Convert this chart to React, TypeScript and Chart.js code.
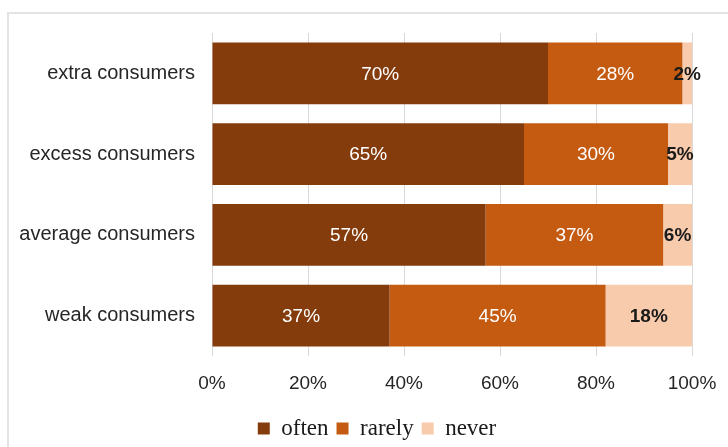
import React, { useEffect, useRef } from "react";
import { Chart, registerables } from "chart.js";

Chart.register(...registerables);

const categories = ["extra consumers", "excess consumers", "average consumers", "weak consumers"];
const often = [70, 65, 57, 37];
const rarely = [28, 30, 37, 45];
const never = [2, 5, 6, 18];
const seriesNames = ["often", "rarely", "never"];
const xTicks = [0, 20, 40, 60, 80, 100];

const SANS = "'Liberation Sans', Arial, sans-serif";
const SERIF = "'Liberation Serif', 'Times New Roman', serif";

const dataLabelPlugin = {
  id: "segmentLabels",
  afterDatasetsDraw(chart: any) {
    const ctx = chart.ctx;
    ctx.save();
    ctx.textAlign = "center";
    ctx.textBaseline = "middle";
    chart.data.datasets.forEach((ds: any, di: number) => {
      const meta = chart.getDatasetMeta(di);
      meta.data.forEach((el: any, i: number) => {
        const v = ds.data[i];
        const cx = (el.x + el.base) / 2;
        if (di === 2) {
          ctx.font = `bold 19px ${SANS}`;
          ctx.fillStyle = "#1a1a1a";
        } else {
          ctx.font = `19px ${SANS}`;
          ctx.fillStyle = "#ffffff";
        }
        ctx.fillText(`${v}%`, cx, el.y + 1);
      });
    });
    ctx.restore();
  },
};

const legendShiftPlugin = {
  id: "legendShift",
  afterLayout(chart: any) {
    const lg = chart.legend;
    if (lg) {
      lg.left += 31;
      lg.right += 31;
    }
  },
};

export default function App() {
  const ref = useRef<HTMLCanvasElement | null>(null);

  useEffect(() => {
    if (!ref.current) return;
    const chart = new Chart(ref.current, {
      type: "bar",
      data: {
        labels: categories,
        datasets: [
          { label: seriesNames[0], data: often, backgroundColor: "#843C0C" },
          { label: seriesNames[1], data: rarely, backgroundColor: "#C55A11" },
          { label: seriesNames[2], data: never, backgroundColor: "#F8CBAD" },
        ],
      },
      options: {
        indexAxis: "y",
        responsive: false,
        animation: false,
        devicePixelRatio: 1,
        events: [],
        datasets: { bar: { categoryPercentage: 1, barPercentage: 0.766 } },
        layout: { padding: { left: 0, right: 36, top: 33, bottom: -3 } },
        scales: {
          x: {
            stacked: true,
            min: 0,
            max: 100,
            afterBuildTicks: (scale: any) => {
              scale.ticks = xTicks.map((v) => ({ value: v }));
            },
            afterFit: (scale: any) => {
              scale.height = 53;
              scale.paddingLeft = 0;
              scale.paddingRight = 0;
            },
            ticks: {
              callback: (v: any) => `${v}%`,
              color: "#262626",
              font: { family: SANS, size: 19 },
              padding: 16,
            },
            grid: { color: "#d9d9d9", lineWidth: 1, drawTicks: false },
            border: { display: false },
          },
          y: {
            stacked: true,
            afterFit: (scale: any) => {
              scale.width = 212;
            },
            ticks: {
              color: "#262626",
              font: { family: SANS, size: 20 },
              padding: 17,
            },
            grid: { display: false, drawTicks: false },
            border: { display: false },
          },
        },
        plugins: {
          title: { display: false },
          tooltip: { enabled: false },
          legend: {
            position: "bottom",
            labels: {
              boxWidth: 12,
              boxHeight: 12,
              padding: 8,
              color: "#1a1a1a",
              font: { family: SERIF, size: 23 },
            },
          },
        },
      },
      plugins: [dataLabelPlugin, legendShiftPlugin],
    } as any);
    return () => chart.destroy();
  }, []);

  return (
    <div style={{ position: "fixed", left: 0, top: 0, width: 728, height: 447, overflow: "hidden", background: "#fff" }}>
      <div
        style={{
          position: "absolute",
          left: 7,
          top: 12,
          width: 740,
          height: 460,
          borderLeft: "2px solid #e3e3e3",
          borderTop: "2px solid #e3e3e3",
        }}
      />
      <canvas ref={ref} width={728} height={447} style={{ position: "absolute", left: 0, top: 0 }} />
    </div>
  );
}
